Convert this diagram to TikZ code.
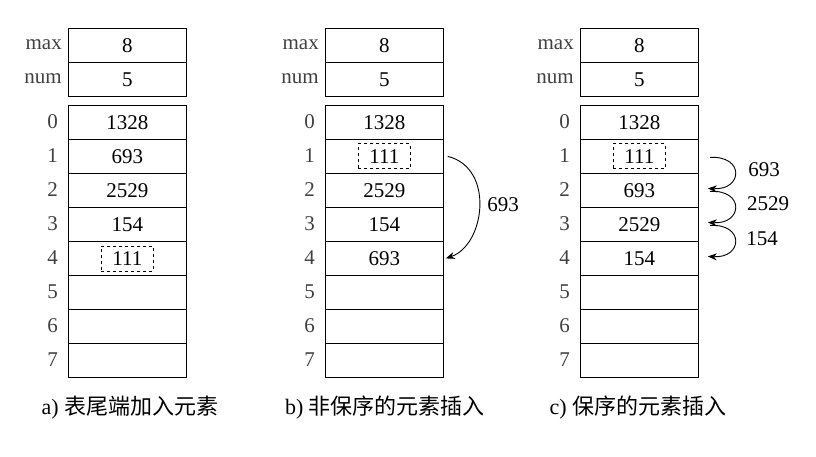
\documentclass[tikz,border=0pt]{standalone}
\usepackage{fontspec}
\setmainfont{Liberation Serif}
\newfontfamily\cjk{Noto Sans CJK SC}
\usetikzlibrary{arrows.meta}
\begin{document}
\begin{tikzpicture}[x=1pt,y=-1pt,
  cell/.style={draw,line width=0.8pt,minimum width=118pt,minimum height=34pt,inner sep=0pt,font=\fontsize{21}{24}\selectfont,anchor=north west},
  lab/.style={anchor=east,inner sep=2pt,font=\fontsize{21}{24}\selectfont,text=black!75},
  dbox/.style={draw,dashed,line width=0.8pt,minimum width=52pt,minimum height=25pt,inner sep=0pt},
  captext/.style={font=\fontsize{22}{26}\selectfont},
  arr/.style={-{Stealth[length=9pt,width=7pt]},line width=0.9pt},
  alab/.style={font=\fontsize{21}{24}\selectfont}]
\useasboundingbox (0,0) rectangle (816,457);
\foreach \t/\x in {a/68,b/325,c/580}{
  \node[cell] (\t max) at (\x,28) {8};
  \node[cell] (\t num) at (\x,62) {5};
  \node[lab] (\t lmax) at (\x-4,45) {max};
  \node[lab] (\t lnum) at (\x-4,79) {num};
  \foreach \i in {0,...,7} {
    \node[cell] (\t r\i) at (\x,105+34*\i) {};
    \node[lab] (\t l\i) at (\x-8,122+34*\i) {\i};
  }
}
\foreach \t/\i/\val in {a/0/1328,a/1/693,a/2/2529,a/3/154,b/0/1328,b/2/2529,b/3/154,b/4/693,c/0/1328,c/2/693,c/3/2529,c/4/154}{
  \node[font=\fontsize{21}{24}\selectfont] (\t v\i) at (\t r\i) {\val};
}
\node[dbox,font=\fontsize{21}{24}\selectfont] (ad) at (ar4) {111};
\node[dbox,font=\fontsize{21}{24}\selectfont] (bd) at (br1) {111};
\node[dbox,font=\fontsize{21}{24}\selectfont] (cd) at (cr1) {111};
% b arrow
\coordinate (bs) at ([xshift=4pt]br1.east);
\coordinate (be) at ([xshift=2pt]br4.east);
\draw[arr] (bs) .. controls (495,168) and (485,245) .. (be);
\node[alab] (b693) at (503,205) {693};
% c arrows
\foreach \a/\b in {1/2,2/3,3/4}{
  \coordinate (cs\a) at ([xshift=11pt,yshift=-1pt]cr\a.east);
  \coordinate (ce\a) at ([xshift=9pt,yshift=2pt]cr\b.east);
  \draw[arr] (cs\a) .. controls ++(35,-2) and ++(35,2) .. (ce\a);
}
\node[alab] (c1) at (764,170) {693};
\node[alab] (c2) at (768,204) {2529};
\node[alab] (c3) at (762,239) {154};
\node[captext] (capa) at (130,408) {a) {\cjk 表尾端加入元素}};
\node[captext] (capb) at (385,408) {b) {\cjk 非保序的元素插入}};
\node[captext] (capc) at (638,408) {c) {\cjk 保序的元素插入}};
\end{tikzpicture}
\end{document}
